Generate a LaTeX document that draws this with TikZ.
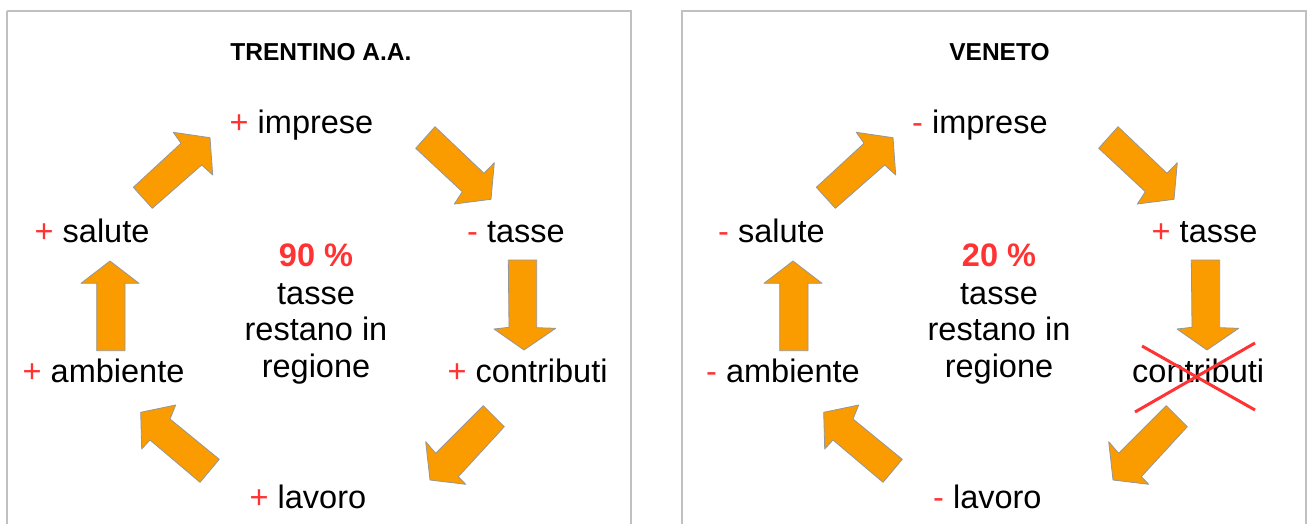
\documentclass[tikz,border=0pt]{standalone}
\usepackage{fontspec}
\setmainfont{Liberation Sans}
\definecolor{arrfill}{RGB}{250,156,0}
\definecolor{arrline}{RGB}{150,150,150}
\definecolor{signred}{RGB}{255,51,51}
\definecolor{boxline}{RGB}{192,192,192}
\tikzset{
  panel/.style={draw=boxline, line width=2pt},
  blockarrow/.style={fill=arrfill, draw=arrline, line width=0.8pt, line join=round},
  lbl/.style={anchor=base west, inner sep=0pt, font=\fontsize{32.5}{37}\selectfont},
  ctr/.style={anchor=base, inner sep=0pt, font=\fontsize{32.5}{37}\selectfont},
  ttl/.style={anchor=base, inner sep=0pt, font=\fontsize{24.5}{28}\selectfont\bfseries},
  cross/.style={draw=signred, line width=3pt}
}
\newcommand{\sgn}[1]{\textcolor{signred}{#1}}
\begin{document}
\begin{tikzpicture}[x=1pt,y=-1pt]
\useasboundingbox (0,0) rectangle (1308,524);
\clip (0,0) rectangle (1308,524);
\fill[white] (0,0) rectangle (1308,524);
% panels
\draw[panel] (6.5,11) -- (631,11) -- (631,540);
\draw[panel] (6.5,540) -- (6.5,11);
\draw[panel] (682,540) -- (682,11) -- (1306,11) -- (1306,540);

% ---------- left panel ----------
\node[ttl] (t1) at (321,61) {TRENTINO A.A.};
\node[lbl] (imp1) at (229.5,133.3) {\sgn{+} imprese};
\node[lbl] (tas1) at (467,242.7) {\sgn{-} tasse};
\node[lbl] (con1) at (447.5,382.7) {\sgn{+} contributi};
\node[lbl] (lav1) at (249.5,508.3) {\sgn{+} lavoro};
\node[lbl] (amb1) at (22.5,382.7) {\sgn{+} ambiente};
\node[lbl] (sal1) at (34.5,242.7) {\sgn{+} salute};
\node[ctr,font=\fontsize{32.5}{37}\selectfont\bfseries,text=signred] (p1) at (316,266.7) {90 \%};
\node[ctr] (c1a) at (316,304) {tasse};
\node[ctr] (c1b) at (316,340.7) {restano in};
\node[ctr] (c1c) at (316,377.7) {regione};

\begin{scope}
% salute -> imprese
\draw[blockarrow] (133.3,187.3) -- (181,143.3) -- (173.3,132.3) -- (210,137.7) -- (212.7,175) -- (201.7,165) -- (152.3,208.3) -- cycle;
% imprese -> tasse
\draw[blockarrow] (435,126.7) -- (484,173.3) -- (494.3,162.7) -- (491,199.3) -- (454.3,204) -- (462.3,191.7) -- (415.7,148.3) -- cycle;
% tasse -> contributi
\draw[blockarrow] (508.3,260) -- (536.7,260) -- (536.7,327.7) -- (555.7,328.3) -- (524,350) -- (494,329) -- (509,327.3) -- cycle;
% contributi -> lavoro
\draw[blockarrow] (483.3,405.7) -- (504.3,426.7) -- (458.3,476.7) -- (465.7,484.3) -- (430,480) -- (425.7,441.7) -- (435.7,453.3) -- cycle;
% lavoro -> ambiente
\draw[blockarrow] (219.3,459.3) -- (200,482.3) -- (150,440) -- (141.7,449) -- (140.7,412.3) -- (175.7,405) -- (170,419) -- cycle;
% ambiente -> salute
\draw[blockarrow] (96.7,350.7) -- (125,350.7) -- (125,283.3) -- (139,283.3) -- (110,261) -- (81,283.3) -- (96.7,283.3) -- cycle;
\end{scope}

% ---------- right panel ----------
\node[ttl] (t2) at (999.5,61) {VENETO};
\node[lbl] (imp2) at (912,133.3) {\sgn{-} imprese};
\node[lbl] (tas2) at (1151.5,242.7) {\sgn{+} tasse};
\node[lbl] (con2) at (1132,382.7) {contributi};
\node[lbl] (lav2) at (933,508.3) {\sgn{-} lavoro};
\node[lbl] (amb2) at (706,382.7) {\sgn{-} ambiente};
\node[lbl] (sal2) at (718,242.7) {\sgn{-} salute};
\node[ctr,font=\fontsize{32.5}{37}\selectfont\bfseries,text=signred] (p2) at (999,266.7) {20 \%};
\node[ctr] (c2a) at (999,304) {tasse};
\node[ctr] (c2b) at (999,340.7) {restano in};
\node[ctr] (c2c) at (999,377.7) {regione};

\begin{scope}[xshift=683pt]
\draw[blockarrow] (133.3,187.3) -- (181,143.3) -- (173.3,132.3) -- (210,137.7) -- (212.7,175) -- (201.7,165) -- (152.3,208.3) -- cycle;
\draw[blockarrow] (435,126.7) -- (484,173.3) -- (494.3,162.7) -- (491,199.3) -- (454.3,204) -- (462.3,191.7) -- (415.7,148.3) -- cycle;
\draw[blockarrow] (508.3,260) -- (536.7,260) -- (536.7,327.7) -- (555.7,328.3) -- (524,350) -- (494,329) -- (509,327.3) -- cycle;
\draw[blockarrow] (483.3,405.7) -- (504.3,426.7) -- (458.3,476.7) -- (465.7,484.3) -- (430,480) -- (425.7,441.7) -- (435.7,453.3) -- cycle;
\draw[blockarrow] (219.3,459.3) -- (200,482.3) -- (150,440) -- (141.7,449) -- (140.7,412.3) -- (175.7,405) -- (170,419) -- cycle;
\draw[blockarrow] (96.7,350.7) -- (125,350.7) -- (125,283.3) -- (139,283.3) -- (110,261) -- (81,283.3) -- (96.7,283.3) -- cycle;
\end{scope}

% cross over contributi
\coordinate (x1a) at (1142,346);
\coordinate (x1b) at (1255,410);
\coordinate (x2a) at (1255,343);
\coordinate (x2b) at (1135,412);
\draw[cross] (x1a) -- (x1b);
\draw[cross] (x2a) -- (x2b);
\end{tikzpicture}
\end{document}
